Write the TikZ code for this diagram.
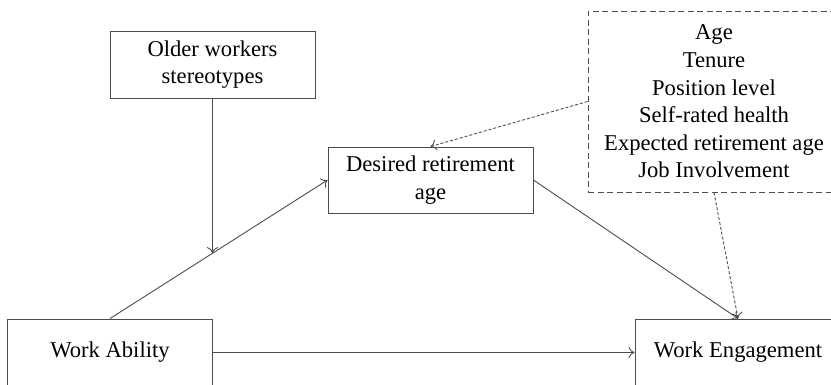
\documentclass[tikz,border=0pt]{standalone}
\usepackage{fontspec}
\setmainfont{Liberation Serif}
\usetikzlibrary{arrows.meta,calc}
\begin{document}
\begin{tikzpicture}[x=1pt,y=-1pt,
 box/.style={draw=black!70, line width=0.9pt, inner sep=0pt, align=center, font=\fontsize{22.6}{27.6}\selectfont, text=black},
 dbox/.style={box, dash pattern=on 6pt off 3.5pt},
 arr/.style={draw=black!70, line width=0.9pt, -{To[length=6pt,width=11pt]}},
 darr/.style={arr, dash pattern=on 3pt off 2pt}]
\useasboundingbox (0,0) rectangle (831,384);
\node[box, minimum width=205, minimum height=67] (old) at (212.5,64.5) {Older workers\\stereotypes};
\node[box, minimum width=205, minimum height=66] (dra) at (430.5,180) {Desired retirement\\age};
\node[dbox, minimum width=252, minimum height=181] (ctrl) at (714,101.5) {Age\\Tenure\\Position level\\Self-rated health\\Expected retirement age\\Job Involvement};
\node[box, minimum width=205, minimum height=67] (wa) at (110,352.5) {Work Ability};
\node[box, minimum width=206, minimum height=67] (we) at (738,352.5) {Work Engagement};
\coordinate (m) at ($(wa.north)!0.4725!(dra.west)$);
\draw[arr] (wa.north) -- (dra.west);
\draw[arr] (old.south) -- (old.south |- m);
\draw[arr] (dra.east) -- (we.north);
\draw[arr] (wa.east) -- (we.west);
\draw[darr] (ctrl.south) -- (we.north);
\draw[darr] (ctrl.west) -- (dra.north);
\end{tikzpicture}
\end{document}
